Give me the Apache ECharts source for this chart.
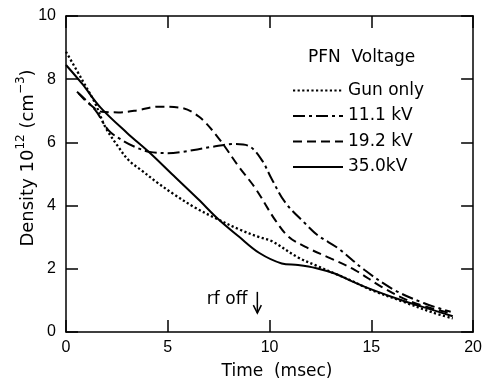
<!DOCTYPE html>
<html><head><meta charset="utf-8">
<script src="https://cdn.jsdelivr.net/npm/echarts@6.0.0/dist/echarts.min.js"></script>
<style>html,body{margin:0;padding:0;background:#fff}#c{width:485px;height:386px}</style>
</head><body><div id="c"></div>
<script>
// ---- data ----
const seriesNames = ['Gun only', '11.1 kV', '19.2 kV', '35.0kV'];
const xTicks = [0, 5, 10, 15, 20];
const yTicks = [0, 2, 4, 6, 8, 10];
const gunOnly = [[0,8.87],[0.8,7.97],[1.43,7.24],[1.92,6.5],[2.57,5.86],[3.1,5.42],[3.7,5.12],[4.5,4.72],[5.23,4.39],[6.3,3.95],[7.35,3.6],[8.5,3.25],[9.5,3.0],[10.1,2.88],[11.4,2.36],[12.3,2.1],[13.2,1.85],[14,1.63],[15,1.33],[16.6,0.95],[18,0.62],[19,0.43]];
const kv11 = [[0.54,7.6],[1.43,7.03],[2.08,6.39],[2.73,6.08],[3.38,5.86],[4.11,5.7],[5.0,5.66],[5.72,5.7],[7.19,5.86],[8.3,5.95],[9.0,5.88],[9.62,5.44],[10.1,4.85],[10.77,4.1],[11.74,3.44],[12.39,3.05],[13.37,2.65],[14.67,1.96],[16.13,1.33],[17.6,0.91],[18.9,0.64]];
const kv19 = [[0.62,7.55],[1.1,7.24],[1.76,6.97],[2.57,6.95],[3.55,7.02],[4.5,7.13],[5.6,7.1],[6.54,6.81],[7.5,6.13],[8.49,5.23],[9.3,4.55],[10.28,3.54],[10.93,3.02],[11.74,2.7],[13.0,2.33],[14.2,1.96],[15.5,1.43],[16.95,0.96],[18.9,0.59]];
const kv35 = [[0,8.45],[0.8,7.85],[1.7,7.1],[3.0,6.3],[4.1,5.68],[5.2,5.0],[6.5,4.2],[7.5,3.56],[8.49,3.02],[9.5,2.5],[10.6,2.17],[11.4,2.12],[12.3,2.02],[13.2,1.85],[14,1.62],[15,1.35],[16.6,0.98],[18,0.7],[19,0.5]];
const rfOffTime = 9.4;

const FONT = 'DejaVu Sans';
const chart = echarts.init(document.getElementById('c'), null, {renderer: 'canvas'});
const axisCommon = {
  type: 'value', min: 0, splitLine: {show: false},
  axisLine: {show: true, onZero: false, lineStyle: {color: '#000', width: 1.5}},
  axisTick: {show: true, inside: true, length: 12, lineStyle: {color: '#000', width: 1.5}},
  minorTick: {show: false}
};
const lineStyles = [
  {type: [2.2, 2.4], width: 2.3},
  {type: [12, 4, 3, 4], width: 2},
  {type: [9, 5], width: 2},
  {type: 'solid', width: 2}
];
const datas = [gunOnly, kv11, kv19, kv35];
const series = seriesNames.map((n, i) => ({
  name: n, type: 'line', data: datas[i], smooth: 0.35, symbol: 'none',
  xAxisIndex: 0, yAxisIndex: 0,
  lineStyle: Object.assign({color: '#000'}, lineStyles[i]),
  itemStyle: {color: '#000'}
}));

chart.setOption({
  animation: false,
  backgroundColor: '#fff',
  grid: {left: 66, right: 9, top: 16, bottom: 54, containLabel: false},
  xAxis: [
    Object.assign({}, axisCommon, {position: 'bottom', max: 20, interval: 5,
      axisLabel: {show: true, margin: 8, fontSize: 16, fontFamily: 'Liberation Sans', color: '#000',
        formatter: v => xTicks.includes(v) ? String(v) : ''}}),
    Object.assign({}, axisCommon, {position: 'top', max: 20, interval: 5, axisLabel: {show: false}})
  ],
  yAxis: [
    Object.assign({}, axisCommon, {position: 'left', max: 10, interval: 2,
      axisLabel: {show: true, margin: 10, fontSize: 16, fontFamily: 'Liberation Sans', color: '#000',
        formatter: v => yTicks.includes(v) ? String(v) : ''}}),
    Object.assign({}, axisCommon, {position: 'right', max: 10, interval: 2, axisLabel: {show: false}})
  ],
  legend: {
    show: true, orient: 'vertical', left: 292, top: 82, padding: 0,
    itemWidth: 50, itemHeight: 16, itemGap: 8.5,
    data: seriesNames,
    itemStyle: {color: 'transparent', borderWidth: 0, opacity: 0},
    textStyle: {fontFamily: FONT, fontSize: 17, color: '#000'},
    inactiveColor: '#000'
  },
  series: series
});

function px(p) { return chart.convertToPixel({xAxisIndex: 0, yAxisIndex: 0}, p); }
const arrowTop = px([rfOffTime, 1.27]);
const arrowBot = px([rfOffTime, 0.6]);

chart.setOption({
  graphic: [
    {type: 'text', left: 308, top: 49, style: {text: 'PFN  Voltage', font: '17px "DejaVu Sans"', fill: '#000'}},
    {type: 'text', x: 277, y: 372, style: {text: 'Time  (msec)', font: '17px "DejaVu Sans"', fill: '#000', align: 'center', verticalAlign: 'middle'}},
    {type: 'text', x: 26, y: 158, rotation: Math.PI / 2,
      style: {text: '{m|Density 10}{s|12}{m| (cm}{s|−3}{m|)}', align: 'center', verticalAlign: 'middle', fill: '#000',
        rich: {m: {fontFamily: FONT, fontSize: 18, lineHeight: 22, verticalAlign: 'bottom', fill: '#000'},
               s: {fontFamily: FONT, fontSize: 12, lineHeight: 12, verticalAlign: 'top', fill: '#000'}}}},
    {type: 'text', x: arrowTop[0] - 10, y: 300, style: {text: 'rf off', font: '17px "DejaVu Sans"', fill: '#000', align: 'right', verticalAlign: 'middle'}},
    {type: 'line', shape: {x1: arrowTop[0], y1: arrowTop[1], x2: arrowBot[0], y2: arrowBot[1]}, style: {stroke: '#000', lineWidth: 1.5}},
    {type: 'polyline', shape: {points: [[arrowBot[0] - 4, arrowBot[1] - 8], [arrowBot[0], arrowBot[1]], [arrowBot[0] + 4, arrowBot[1] - 8]]}, style: {stroke: '#000', lineWidth: 1.5, fill: null}}
  ]
});
</script>
</body></html>
